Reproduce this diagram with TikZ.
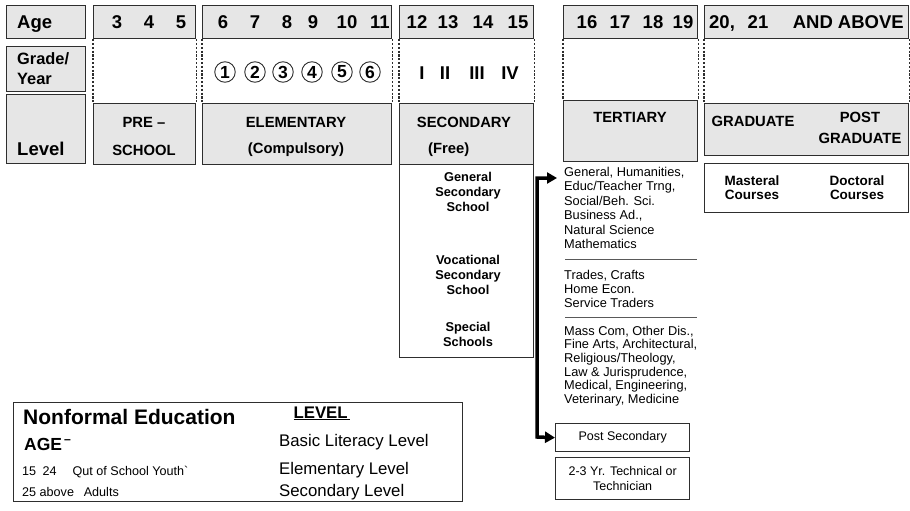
\documentclass[tikz,border=0pt]{standalone}
\usepackage{fontspec}
\setmainfont{Liberation Sans}
\usetikzlibrary{arrows.meta}
\definecolor{cellgray}{HTML}{E6E6E6}
\definecolor{rulegray}{HTML}{2E2E2E}
\newcommand{\fsz}[2]{\fontsize{#1}{#2}\selectfont}
\begin{document}
\begin{tikzpicture}[x=1pt,y=1pt,
  every node/.append style={inner sep=0pt},
  cell/.style={draw=rulegray,line width=1.3pt,fill=cellgray,anchor=north west},
  blank/.style={draw=rulegray,line width=1.3pt,fill=white,anchor=north west},
  side/.style={rulegray,line width=1.3pt,dash pattern=on 2.2pt off 1.6pt},
  head/.style={font=\bfseries\fsz{18.5}{20},anchor=base},
  lvl/.style={font=\bfseries\fsz{14.8}{16},anchor=base},
  ring/.style={circle,draw=rulegray,line width=0.9pt,minimum size=20.5pt,font=\bfseries\fsz{17.5}{18}},
  list/.style={font=\fsz{12.8}{14},align=left,anchor=west},
  flow/.style={line width=3.5pt,{Triangle[length=10pt,width=11pt]}-{Triangle[length=10pt,width=11pt]}}]
\useasboundingbox (0,0) rectangle (910,-511);
% left column
\node[cell,minimum width=79,minimum height=33] (agebox) at (6,-5) {};
\node[cell,minimum width=79,minimum height=45] (gradebox) at (6,-46) {};
\node[cell,minimum width=79,minimum height=69] (lvlbox) at (6,-94) {};
\node[head,anchor=base west] (agetxt) at (17,-29) {Age};
\node[font=\bfseries\fsz{16.4}{20},align=left,anchor=west] (gradetxt) at (17,-69) {Grade/\\Year};
\node[head,anchor=base west] (lvltxt) at (17,-155) {Level};
% age boxes
\node[cell,minimum width=102,minimum height=33] (pretop) at (93,-5) {};
\node[cell,minimum width=189,minimum height=33] (elemtop) at (202,-5) {};
\node[cell,minimum width=134,minimum height=33] (sectop) at (399,-5) {};
\node[cell,minimum width=134,minimum height=33] (tertop) at (563,-5) {};
\node[cell,minimum width=204,minimum height=33] (gradtop) at (704,-5) {};
\foreach \n/\x in {3/117,4/149,5/181,6/223,7/255,8/287,9/313,10/347,11/380,
    12/417,13/448,14/483,15/518,16/587,17/620,18/653,19/683}
  \node[head] (age\n) at (\x,-29) {\n};
\node[head,anchor=base west] (age20) at (709,-29) {20,};
\node[head] (age21) at (758,-29) {21};
\node[head,anchor=base east] (ageup) at (904,-29) {AND ABOVE};
% level boxes
\node[cell,minimum width=102,minimum height=61] (prelvl) at (93,-103) {};
\node[cell,minimum width=189,minimum height=61] (elemlvl) at (202,-103) {};
\node[blank,minimum width=134,minimum height=193] (secbody) at (399,-164) {};
\node[cell,minimum width=134,minimum height=61] (seclvl) at (399,-103) {};
\node[cell,minimum width=134,minimum height=61] (terlvl) at (563,-100) {};
\node[cell,minimum width=204,minimum height=52] (gradlvl) at (704,-103) {};
\node[blank,minimum width=204,minimum height=49] (courses) at (704,-163) {};
% dashed sides
\foreach \c in {pre,elem,sec,ter,grad} {
  \draw[side] (\c top.south west) -- (\c lvl.north west);
  \draw[side] (\c top.south east) -- (\c lvl.north east);
}
% grades
\foreach \n/\x in {1/225,2/255,3/283,4/312,5/342,6/370}
  \node[ring] (grade\n) at (\x,-72) {\n};
\foreach \r/\x in {I/422,II/445,III/477,IV/510}
  \node[head] (form\r) at (\x,-80) {\r};
% level names
\node[lvl] (pre1) at (144,-127) {PRE \textendash};
\node[lvl] (pre2) at (144,-155) {SCHOOL};
\node[lvl] (elem1) at (296,-127) {ELEMENTARY};
\node[lvl] (elem2) at (296,-153) {(Compulsory)};
\node[lvl] (sec1) at (464,-127) {SECONDARY};
\node[lvl,anchor=base west] (sec2) at (428,-153) {(Free)};
\node[lvl] (ter1) at (630,-122) {TERTIARY};
\node[lvl] (grad1) at (753,-126) {GRADUATE};
\node[lvl] (grad2) at (860,-122) {POST};
\node[lvl] (grad3) at (860,-143) {GRADUATE};
% secondary schools
\node[font=\bfseries\fsz{12.8}{15},align=center] (gensec) at (468,-192) {General\\Secondary\\School};
\node[font=\bfseries\fsz{12.8}{15},align=center] (vocsec) at (468,-275) {Vocational\\Secondary\\School};
\node[font=\bfseries\fsz{12.8}{15},align=center] (special) at (468,-334) {Special\\Schools};
% tertiary courses
\node[list,font=\fsz{12.8}{14.4}] (terA) at (564,-208) {General, Humanities,\\Educ/Teacher Trng,\\Social/Beh. Sci.\\Business Ad.,\\Natural Science\\Mathematics};
\draw[gray!70!black,line width=1pt] (565,-259) -- (697,-259);
\node[list] (terB) at (564,-289) {Trades, Crafts\\Home Econ.\\Service Traders};
\draw[gray!70!black,line width=1pt] (565,-317) -- (697,-317);
\node[list,font=\fsz{12.8}{13.6}] (terC) at (564,-366) {Mass Com, Other Dis.,\\Fine Arts, Architectural,\\Religious/Theology,\\Law \& Jurisprudence,\\Medical, Engineering,\\Veterinary, Medicine};
% graduate courses
\node[font=\bfseries\fsz{13.5}{14},align=center] (masteral) at (752,-188) {Masteral\\Courses};
\node[font=\bfseries\fsz{13.5}{14},align=center] (doctoral) at (857,-188) {Doctoral\\Courses};
% post secondary
\node[blank,minimum width=134,minimum height=28,font=\fsz{12.5}{15}] (post) at (555,-423) {Post Secondary};
\node[blank,minimum width=134,minimum height=42,font=\fsz{12.5}{15},align=center] (tech) at (555,-457) {2-3 Yr. Technical or\\Technician};
\coordinate (gentip) at (557,-178);
\coordinate (foot) at (537,-437);
\draw[flow] (gentip) -| (foot) -- (post.west);
% nonformal
\node[blank,minimum width=449,minimum height=99] (nfe) at (13,-402) {};
\node[font=\bfseries\fsz{21}{22},anchor=base west] (nfetitle) at (23,-424) {Nonformal Education};
\node[font=\bfseries\fsz{17.5}{18},anchor=base west] (nfeage) at (24,-450) {AGE\textsuperscript{\,\textendash}};
\node[font=\fsz{12.6}{14},anchor=base west] (youth) at (22,-475) {15\enspace 24\quad\ Qut of School Youth\textasciigrave};
\node[font=\fsz{12.6}{14},anchor=base west] (adults) at (22,-496) {25 above\enspace\ Adults};
\node[font=\bfseries\fsz{16.8}{18},anchor=base] (nfelvl) at (322,-418) {\underline{LEVEL\,}};
\node[font=\fsz{16.8}{18},anchor=base west] (basic) at (279,-446) {Basic Literacy Level};
\node[font=\fsz{16.8}{18},anchor=base west] (elemnfe) at (279,-474) {Elementary Level};
\node[font=\fsz{16.8}{18},anchor=base west] (secnfe) at (279,-496) {Secondary Level};
\end{tikzpicture}
\end{document}
